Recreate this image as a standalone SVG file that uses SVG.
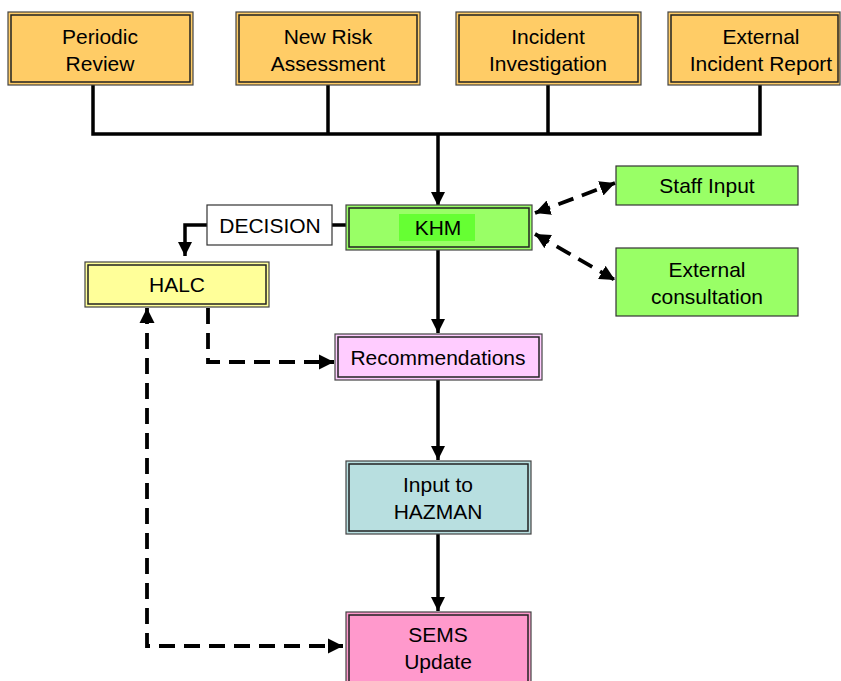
<svg xmlns="http://www.w3.org/2000/svg" width="841" height="681" viewBox="0 0 841 681">
<style>
text{font-family:"Liberation Sans",Arial,sans-serif;font-size:21px;fill:#000;text-anchor:middle}
.o{stroke:#444;stroke-width:1.2}
.i{fill:none;stroke:#222;stroke-width:1.5}
.c{fill:none;stroke:#000;stroke-width:3.5}
.d{fill:none;stroke:#000;stroke-width:3.8;stroke-dasharray:16,9}
</style>
<defs>
<marker id="a" viewBox="0 0 10 10" refX="10" refY="5" markerWidth="4" markerHeight="4" orient="auto" markerUnits="strokeWidth">
<path d="M0,0L10,5L0,10z" fill="#000"/>
</marker>
<marker id="s" viewBox="0 0 10 10" refX="0" refY="5" markerWidth="4" markerHeight="4" orient="auto" markerUnits="strokeWidth">
<path d="M10,0L0,5L10,10z" fill="#000"/>
</marker>
</defs>
<rect width="841" height="681" fill="#fff"/>
<g id="connectors">
<path class="c" d="M93,85V134H760V85M328,85V134M548,85V134"/>
<path class="c" d="M438,134V206" marker-end="url(#a)"/>
<path class="c" d="M438,250V333" marker-end="url(#a)"/>
<path class="c" d="M438,380V460" marker-end="url(#a)"/>
<path class="c" d="M438,534V611" marker-end="url(#a)"/>
<path class="c" d="M346,225H332"/>
<path class="c" d="M207,225H185V256" marker-end="url(#a)"/>
<path class="d" d="M208,308V362H334" marker-end="url(#a)"/>
<path class="d" d="M147,308V646H343" marker-start="url(#s)" marker-end="url(#a)"/>
<path class="d" d="M535,213L615,183" marker-start="url(#s)" marker-end="url(#a)"/>
<path class="d" d="M535,234L615,280" marker-start="url(#s)" marker-end="url(#a)"/>
</g>
<g id="periodic-review">
<rect class="o" x="8" y="12" width="185" height="73" fill="#ffcc66"/>
<rect class="i" x="11" y="15" width="179" height="67"/>
<text x="100" y="44">Periodic</text>
<text x="100" y="71">Review</text>
</g>
<g id="new-risk-assessment">
<rect class="o" x="236" y="12" width="184" height="73" fill="#ffcc66"/>
<rect class="i" x="239" y="15" width="178" height="67"/>
<text x="328" y="44">New Risk</text>
<text x="328" y="71">Assessment</text>
</g>
<g id="incident-investigation">
<rect class="o" x="456" y="12" width="185" height="73" fill="#ffcc66"/>
<rect class="i" x="459" y="15" width="179" height="67"/>
<text x="548" y="44">Incident</text>
<text x="548" y="71">Investigation</text>
</g>
<g id="external-incident-report">
<rect class="o" x="668" y="12" width="172" height="73" fill="#ffcc66"/>
<rect class="i" x="671" y="15" width="167" height="67"/>
<text x="761" y="44">External</text>
<text x="761" y="71">Incident Report</text>
</g>
<g id="khm">
<rect class="o" x="346" y="205" width="186" height="45" fill="#99ff66"/>
<rect class="i" x="349" y="208" width="180" height="39"/>
<rect x="399" y="214" width="76" height="27" fill="#66ff33"/>
<text x="438" y="235">KHM</text>
</g>
<g id="decision">
<rect x="207" y="205" width="125" height="40" fill="#fff" stroke="#333" stroke-width="1.2"/>
<text x="270" y="233">DECISION</text>
</g>
<g id="halc">
<rect class="o" x="85" y="262" width="184" height="45" fill="#ffff99"/>
<rect class="i" x="88" y="265" width="178" height="39"/>
<text x="177" y="292">HALC</text>
</g>
<g id="staff-input">
<rect x="616" y="166" width="182" height="39" fill="#99ff66" stroke="#333" stroke-width="1.2"/>
<text x="707" y="193">Staff Input</text>
</g>
<g id="external-consultation">
<rect x="616" y="248" width="182" height="68" fill="#99ff66" stroke="#333" stroke-width="1.2"/>
<text x="707" y="277">External</text>
<text x="707" y="304">consultation</text>
</g>
<g id="recommendations">
<rect class="o" x="335" y="334" width="207" height="46" fill="#ffccff"/>
<rect class="i" x="338" y="337" width="201" height="40"/>
<text x="438" y="365">Recommendations</text>
</g>
<g id="input-to-hazman">
<rect class="o" x="346" y="461" width="185" height="73" fill="#b8dfe0"/>
<rect class="i" x="349" y="464" width="179" height="67"/>
<text x="438" y="492">Input to</text>
<text x="438" y="519">HAZMAN</text>
</g>
<g id="sems-update">
<rect class="o" x="346" y="612" width="185" height="80" fill="#ff99cc"/>
<rect class="i" x="349" y="615" width="179" height="74"/>
<text x="438" y="642">SEMS</text>
<text x="438" y="669">Update</text>
</g>
</svg>
